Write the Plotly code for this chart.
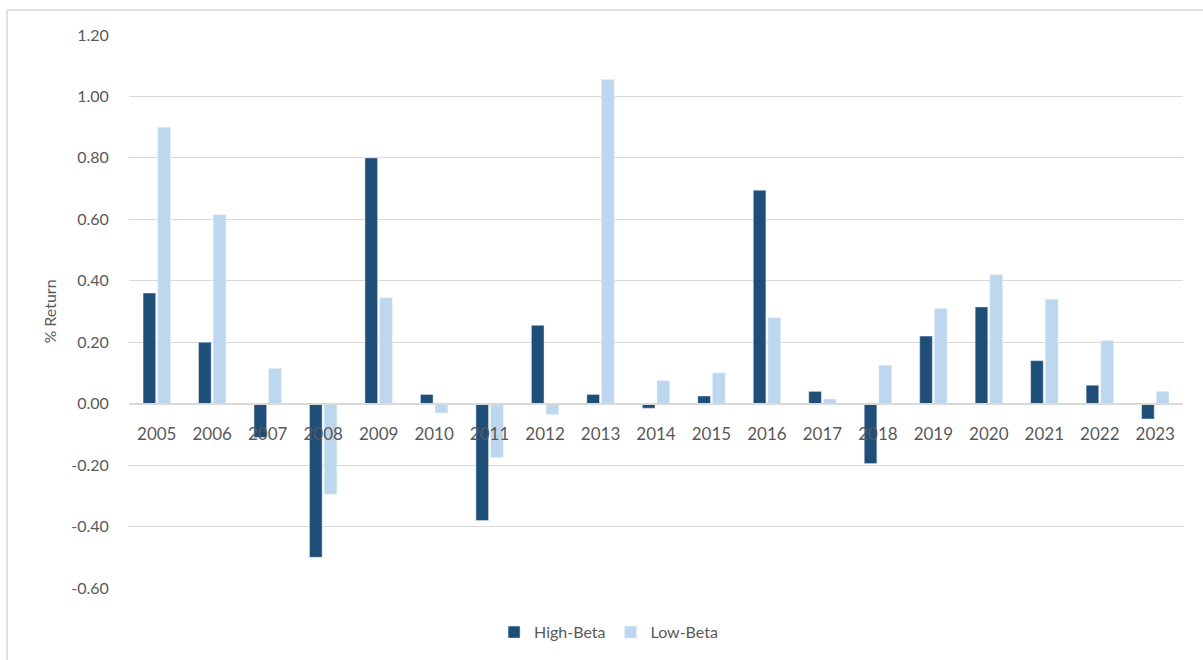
import plotly.graph_objects as go

years = [str(y) for y in range(2005, 2024)]
high_beta = [0.36, 0.20, -0.11, -0.50, 0.80, 0.03, -0.38, 0.255, 0.03, -0.015,
             0.025, 0.695, 0.04, -0.195, 0.22, 0.315, 0.14, 0.06, -0.05]
low_beta = [0.90, 0.615, 0.115, -0.295, 0.345, -0.03, -0.175, -0.035, 1.055, 0.075,
            0.10, 0.28, 0.015, 0.125, 0.31, 0.42, 0.34, 0.205, 0.04]
y_ticks = [-0.6, -0.4, -0.2, 0.0, 0.2, 0.4, 0.6, 0.8, 1.0, 1.2]
y_tick_text = ["-0.60", "-0.40", "-0.20", "0.00", "0.20", "0.40", "0.60", "0.80", "1.00", "1.20"]

FONT = "Lato, 'Open Sans', sans-serif"
GREY = "#595959"

fig = go.Figure()
fig.add_trace(go.Bar(name="High-Beta", x=years, y=high_beta, marker_color="#1F4E79"))
fig.add_trace(go.Bar(name="Low-Beta", x=years, y=low_beta, marker_color="#BDD7EE"))

y_min, y_max = -0.6, 1.2
zero_pos = (0 - y_min) / (y_max - y_min)

fig.update_layout(
    width=1203, height=660,
    margin=dict(l=129, r=20, t=35, b=71),
    paper_bgcolor="white", plot_bgcolor="white",
    barmode="group", bargap=0.47, bargroupgap=0.14,
    font=dict(family=FONT, size=16, color=GREY),
    showlegend=True,
    legend=dict(orientation="h", x=0.455, xanchor="center", y=-0.078, yanchor="middle",
                font=dict(size=16, color=GREY), itemwidth=30, traceorder="normal"),
    xaxis=dict(type="category", anchor="free", position=zero_pos,
               showline=True, linecolor="#d9d9d9", linewidth=2,
               ticks="outside", ticklen=15, tickcolor="rgba(0,0,0,0)",
               tickfont=dict(size=17, color=GREY), showgrid=False, zeroline=False),
    yaxis=dict(range=[y_min, y_max], tickvals=y_ticks, ticktext=y_tick_text,
               showgrid=True, gridcolor="#d9d9d9", gridwidth=1, zeroline=False,
               tickfont=dict(size=16, color=GREY), ticks="outside", ticklen=16,
               tickcolor="rgba(0,0,0,0)",
               title=dict(text="% Return", font=dict(size=16, color=GREY), standoff=10)),
    shapes=[dict(type="rect", xref="paper", yref="paper",
                 x0=-0.1157, x1=1.2, y0=-0.3, y1=1.045,
                 line=dict(color="#d9d9d9", width=1.5), fillcolor="rgba(0,0,0,0)",
                 layer="below")],
)

fig.write_html("out.html")
